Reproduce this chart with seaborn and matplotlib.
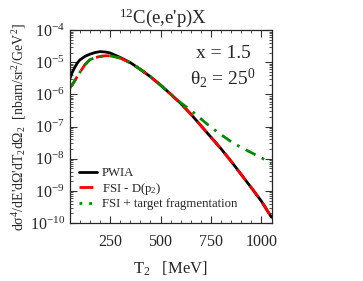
import numpy as np
import pandas as pd
import matplotlib
matplotlib.use("Agg")
import matplotlib.pyplot as plt
import seaborn as sns
from matplotlib.ticker import FixedLocator, MultipleLocator, LogLocator, NullFormatter

# kinetic energy of the detected proton, MeV
t2 = [50, 62, 75, 87, 100, 125, 150, 175, 200, 225, 250, 300, 350, 400, 450,
      500, 550, 600, 650, 700, 750, 800, 850, 900, 950, 1000, 1050]

# log10 of the cross section
pwia_log = [-5.53, -5.32, -5.16, -5.03, -4.93, -4.82, -4.75, -4.70, -4.67,
            -4.68, -4.71, -4.85, -5.01, -5.22, -5.45, -5.71, -5.99, -6.28,
            -6.61, -6.97, -7.33, -7.69, -8.08, -8.49, -8.90, -9.32, -9.82]
fsi_log = [-5.81, -5.70, -5.58, -5.45, -5.32, -5.08, -4.92, -4.86, -4.82,
           -4.80, -4.80, -4.87, -5.02, -5.22, -5.45, -5.71, -5.99, -6.28,
           -6.61, -6.97, -7.33, -7.69, -8.08, -8.49, -8.90, -9.32, -9.82]
frag_log = [-5.81, -5.70, -5.58, -5.45, -5.32, -5.08, -4.92, -4.86, -4.82,
            -4.80, -4.80, -4.87, -5.02, -5.22, -5.45, -5.71, -5.99, -6.26,
            -6.49, -6.76, -7.02, -7.25, -7.47, -7.65, -7.81, -7.97, -8.15]

labels = ["PWIA", "FSI - D(p$_2$)", "FSI + target fragmentation"]

df = pd.DataFrame({"T2": t2,
                   "pwia": np.power(10.0, pwia_log),
                   "fsi": np.power(10.0, fsi_log),
                   "frag": np.power(10.0, frag_log)})

sns.set_style("ticks")
plt.rcParams["font.family"] = ["Liberation Serif", "DejaVu Serif"]
plt.rcParams["mathtext.fontset"] = "custom"
plt.rcParams["mathtext.rm"] = "Liberation Serif"
plt.rcParams["mathtext.it"] = "Liberation Serif:italic"
plt.rcParams["mathtext.default"] = "regular"

fig = plt.figure(figsize=(3.63, 2.81), dpi=100)
ax = fig.add_axes([0.192, 0.206, 0.556, 0.687])

frag_style = (0, (4, 2.5, 1, 2.5))
sns.lineplot(data=df, x="T2", y="pwia", ax=ax, color="black", lw=2,
             label=labels[0])
sns.lineplot(data=df, x="T2", y="fsi", ax=ax, color="#ff0000", lw=2,
             linestyle=(0, (5, 2.5)), label=labels[1])
sns.lineplot(data=df, x="T2", y="frag", ax=ax, color="#008c00", lw=2,
             linestyle=frag_style, label=labels[2])

ax.set_yscale("log")
ax.set_xlim(50, 1050)
ax.set_ylim(1e-10, 1e-4)
ax.xaxis.set_major_locator(FixedLocator([250, 500, 750, 1000]))
ax.xaxis.set_minor_locator(MultipleLocator(50))
ax.yaxis.set_major_locator(LogLocator(base=10, numticks=10))
ax.yaxis.set_minor_locator(LogLocator(base=10, subs=np.arange(2, 10), numticks=20))
ax.yaxis.set_minor_formatter(NullFormatter())
ax.tick_params(which="both", direction="in", top=True, right=True,
               labelsize=11.5, color="#333333")
ax.tick_params(which="major", length=5, width=0.8)
ax.tick_params(which="minor", length=2.5, width=0.6)
ax.tick_params(axis="x", pad=8)
for sp in ax.spines.values():
    sp.set_linewidth(0.9)

ax.set_xlabel("T$_2$   [MeV]", fontsize=12, labelpad=7)
ax.set_ylabel("d\u03c3$^4$/dE'd\u03a9'dT$_2$d\u03a9$_2$  [nbarn/sr$^2$/GeV$^2$]",
              fontsize=10, labelpad=1)
ax.set_title("$^{12}$C(e,e'p)X", fontsize=13.5, pad=5, x=0.46)

ax.text(0.76, 0.88, "x = 1.5", transform=ax.transAxes, fontsize=14,
        ha="center", va="center")
ax.text(0.76, 0.75, "\u03b8$_2$ = 25$^0$", transform=ax.transAxes,
        fontsize=14, ha="center", va="center")

handles, labs = ax.get_legend_handles_labels()
handles[2].set_linestyle((0, (1, 2.5)))
leg = ax.legend(handles, labs, loc="lower left", bbox_to_anchor=(0.0, 0.02),
                fontsize=9.2, frameon=False, handlelength=1.4,
                handletextpad=0.4, labelspacing=0.12, borderaxespad=0.3)
# restore the real line style on the curve
ax.get_lines()[2].set_linestyle(frag_style)

fig.savefig("out.png", dpi=100)
